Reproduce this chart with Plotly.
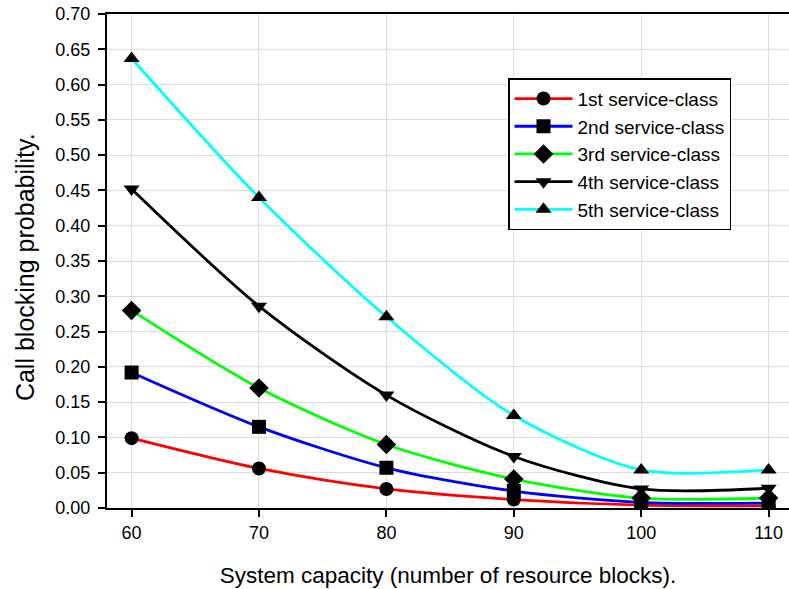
import plotly.graph_objects as go

# System capacity (resource blocks)
capacity = [60, 70, 80, 90, 100, 110]

# Call blocking probability per service-class
cbp_1st = [0.099, 0.056, 0.027, 0.012, 0.004, 0.003]
cbp_2nd = [0.192, 0.115, 0.057, 0.024, 0.008, 0.007]
cbp_3rd = [0.280, 0.170, 0.090, 0.041, 0.014, 0.014]
cbp_4th = [0.452, 0.286, 0.160, 0.073, 0.027, 0.028]
cbp_5th = [0.637, 0.440, 0.271, 0.131, 0.054, 0.054]

series_names = ["1st service-class", "2nd service-class", "3rd service-class",
                "4th service-class", "5th service-class"]

y_ticks = [round(0.05 * i, 2) for i in range(15)]

series = [cbp_1st, cbp_2nd, cbp_3rd, cbp_4th, cbp_5th]
line_colors = ["#ff0000", "#0000ff", "#00ff00", "#000000", "#00ffff"]
symbols = ["circle", "square", "diamond", "triangle-down", "triangle-up"]

fig = go.Figure()
for name, vals, col, sym in zip(series_names, series, line_colors, symbols):
    fig.add_trace(go.Scatter(
        x=capacity, y=vals, name=name,
        mode="lines+markers",
        line=dict(color=col, width=2.8, shape="spline", smoothing=0.8),
        marker=dict(symbol=sym, color="black", size=14 if sym != "diamond" else 15),
    ))

font_fam = "Arial, Liberation Sans, sans-serif"

fig.update_layout(
    width=789, height=589,
    margin=dict(l=107, r=0, t=14, b=81),
    plot_bgcolor="white",
    paper_bgcolor="white",
    font=dict(family=font_fam, size=18, color="black"),
    showlegend=True,
    legend=dict(
        x=0.588, y=0.87, xanchor="left", yanchor="top",
        bordercolor="black", borderwidth=1.5, bgcolor="white",
        font=dict(family=font_fam, size=19, color="black"),
        itemwidth=58, tracegroupgap=0,
    ),
    xaxis=dict(
        range=[58.07, 111.6],
        tickvals=capacity,
        ticks="outside", ticklen=7, tickwidth=1.5, tickcolor="black",
        showline=True, linecolor="black", linewidth=2, mirror=True,
        showgrid=True, gridcolor="#dcdcdc", gridwidth=1,
        zeroline=False, automargin=False, ticklabeloverflow="allow",
        title=dict(text="System capacity (number of resource blocks).",
                   font=dict(size=22.5), standoff=26),
    ),
    yaxis=dict(
        range=[0, 0.70],
        tickvals=y_ticks,
        tickformat=".2f",
        ticks="outside", ticklen=7, tickwidth=1.5, tickcolor="black",
        ticklabelstandoff=4, ticklabeloverflow="allow",
        showline=True, linecolor="black", linewidth=2, mirror=False,
        showgrid=True, gridcolor="#dcdcdc", gridwidth=1,
        zeroline=False, automargin=False,
    ),
)

# y title as a rotated annotation so it sits where the original has it
fig.add_annotation(
    text="Call blocking probability.", textangle=-90,
    xref="paper", yref="paper", x=-0.12, y=0.488,
    xanchor="center", yanchor="middle", showarrow=False,
    font=dict(size=25, color="black"),
)

# drop the default page margin so the figure sits at the window's corner
fig.write_html("out.html", config={"displayModeBar": False},
               post_script="document.body.style.margin='0';")
